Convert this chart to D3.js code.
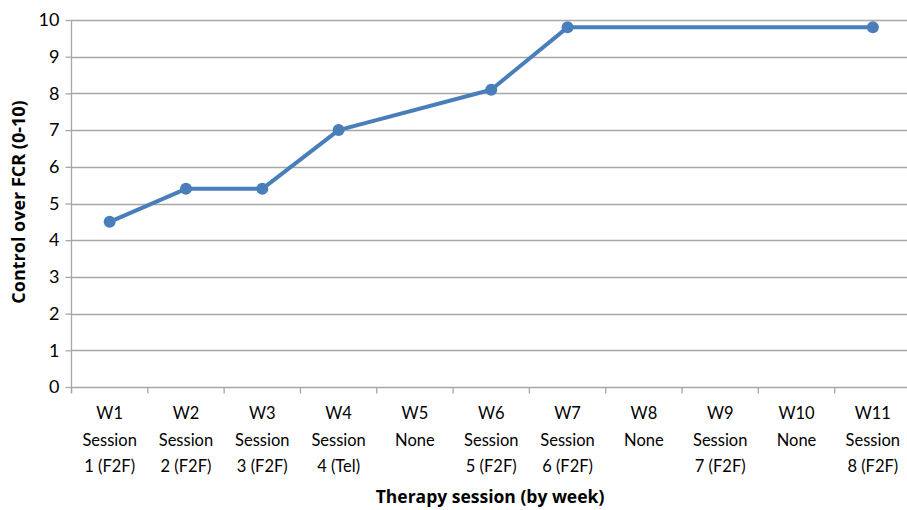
<!DOCTYPE html>
<html><head><meta charset="utf-8">
<script src="https://cdn.jsdelivr.net/npm/d3@7"></script>
<style>body{margin:0;background:#fff}svg{display:block}</style>
</head><body>
<svg id="c" width="907" height="510"></svg>
<script>
const weeks = ["W1","W2","W3","W4","W5","W6","W7","W8","W9","W10","W11"];
const sessions = ["Session","Session","Session","Session","None","Session","Session","None","Session","None","Session"];
const sessionDetails = ["1 (F2F)","2 (F2F)","3 (F2F)","4 (Tel)","","5 (F2F)","6 (F2F)","","7 (F2F)","","8 (F2F)"];
const values = [4.5, 5.4, 5.4, 7.0, null, 8.1, 9.8, null, null, null, 9.8];
const yTicks = [0,1,2,3,4,5,6,7,8,9,10];

const svg = d3.select("#c");
const x = d3.scaleBand().domain(weeks).range([71.5, 911]);
const y = d3.scaleLinear().domain([0,10]).range([387, 20]);

// gridlines
svg.append("g").selectAll("line").data(yTicks).join("line")
  .attr("x1", 71.5).attr("x2", 907).attr("y1", d => Math.round(y(d))+0.5).attr("y2", d => Math.round(y(d))+0.5)
  .attr("stroke", "#a6a6a6").attr("stroke-width", 1.3);

// y axis
const ya = svg.append("g").attr("transform","translate(71.5,0)")
  .call(d3.axisLeft(y).tickValues(yTicks).tickSize(6).tickPadding(6).tickFormat(d3.format("d")));
ya.select(".domain").attr("stroke","#a6a6a6").attr("stroke-width",1.3).attr("d","M0,20.5V393");
ya.selectAll(".tick line").attr("stroke","#a6a6a6").attr("stroke-width",1.3);
ya.selectAll(".tick text").style("font-size","18px").style("fill","#000").style("font-family","Lato, sans-serif");

// x axis
const xa = svg.append("g").attr("transform","translate(0,387.5)")
  .call(d3.axisBottom(x).tickSize(0).tickFormat(""));
xa.select(".domain").remove();
const bounds = weeks.map(w => x(w)).concat([x(weeks[weeks.length-1]) + x.bandwidth()]);
xa.selectAll("line.b").data(bounds).join("line").attr("class","b")
  .attr("x1", d=>d).attr("x2", d=>d).attr("y1",0).attr("y2",6)
  .attr("stroke","#a6a6a6").attr("stroke-width",1.3);

const lab = svg.append("g").selectAll("text").data(weeks).join("text")
  .attr("x", d => x(d) + x.bandwidth()/2).attr("text-anchor","middle")
  .style("font-family","Lato, sans-serif").style("font-size","16.5px").style("fill","#000");
lab.append("tspan").attr("x", d => x(d) + x.bandwidth()/2).attr("y", 419).text(d => d);
lab.append("tspan").attr("x", d => x(d) + x.bandwidth()/2).attr("y", 446).text((d,i) => sessions[i]);
lab.append("tspan").attr("x", d => x(d) + x.bandwidth()/2).attr("y", 472).text((d,i) => sessionDetails[i]);

// axis titles
svg.append("text").attr("x", 490).attr("y", 503).attr("text-anchor","middle")
  .style("font-family","'Open Sans', sans-serif")
  .style("font-size","17.5px").style("font-weight","bold").text("Therapy session (by week)");
svg.append("text").attr("transform","translate(25,202) rotate(-90)").attr("text-anchor","middle")
  .style("font-family","'Open Sans', sans-serif")
  .style("font-size","18px").style("font-weight","bold").text("Control over FCR (0-10)");

// line
const pts = weeks.map((w,i) => ({w, v: values[i]})).filter(d => d.v !== null);
const line = d3.line().x(d => x(d.w) + x.bandwidth()/2).y(d => y(d.v));
svg.append("path").datum(pts).attr("d", line).attr("fill","none")
  .attr("stroke","#4a7ebb").attr("stroke-width",4).attr("stroke-linejoin","round");
svg.append("g").selectAll("circle").data(pts).join("circle")
  .attr("cx", d => x(d.w) + x.bandwidth()/2).attr("cy", d => y(d.v)).attr("r",6)
  .attr("fill","#4a7ebb");
</script>
</body></html>
